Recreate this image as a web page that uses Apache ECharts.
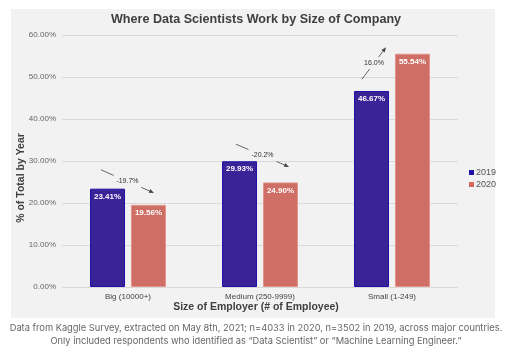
<!DOCTYPE html>
<html>
<head>
<meta charset="utf-8">
<script src="https://cdn.jsdelivr.net/npm/echarts@6/dist/echarts.min.js"></script>
<style>
html,body{margin:0;padding:0;background:#fff;}
#chart{width:512px;height:364px;}
</style>
</head>
<body>
<div id="chart"></div>
<script>
const categories = ['Big (10000+)', 'Medium (250-9999)', 'Small (1-249)'];
const values2019 = [23.41, 29.93, 46.67];
const values2020 = [19.56, 24.90, 55.54];
const yTicks = [0, 10, 20, 30, 40, 50, 60];
// change annotations (category units on a hidden value axis, value in %)
const arrowStartX = [-0.205, 0.818, 1.773];
const arrowStartY = [27.9, 34.0, 49.5];
const arrowEndX = [0.197, 1.220, 1.955];
const arrowEndY = [22.4, 28.6, 57.1];
const arrowLabels = ['-19.7%', '-20.2%', '16.0%'];

const arrowData = arrowLabels.map((l, i) => [arrowStartX[i], arrowStartY[i], arrowEndX[i], arrowEndY[i], l]);

const chart = echarts.init(document.getElementById('chart'));
const font = 'Liberation Sans, Arial, sans-serif';

chart.setOption({
  backgroundColor: '#ffffff',
  animation: false,
  textStyle: { fontFamily: font },
  graphic: [
    { type: 'rect', z: -100, shape: { x: 11, y: 9, width: 484, height: 309 }, style: { fill: '#f2f2f2' } },
    { type: 'text', left: 'center', top: 13, style: { text: 'Where Data Scientists Work by Size of Company', font: 'bold 12.6px ' + font, fill: '#404040' } },
    { type: 'text', x: 21, y: 178, rotation: Math.PI / 2, style: { text: '% of Total by Year', font: 'bold 10.5px ' + font, fill: '#404040', align: 'center', verticalAlign: 'middle' } },
    { type: 'text', left: 'center', top: 302, style: { text: 'Size of Employer (# of Employee)', font: 'bold 10.5px ' + font, fill: '#404040' } },
    { type: 'text', left: 'center', top: 324, style: { text: 'Data from Kaggle Survey, extracted on May 8th, 2021; n=4033 in 2020, n=3502 in 2019, across major countries.', font: '9.3px Inter, Roboto, sans-serif', fill: '#666666' } },
    { type: 'text', left: 'center', top: 337, style: { text: 'Only included respondents who identified as \u201cData Scientist\u201d or \u201cMachine Learning Engineer.\u201d', font: '9.3px Inter, Roboto, sans-serif', fill: '#666666' } }
  ],
  legend: {
    orient: 'vertical', left: 464, top: 163,
    itemWidth: 5, itemHeight: 5, itemGap: 3,
    icon: 'rect',
    textStyle: { fontSize: 9, color: '#555', padding: [0, 0, 0, -3] },
    data: [
      { name: '2019', itemStyle: { color: '#1d13aa', borderWidth: 0 } },
      { name: '2020', itemStyle: { color: '#d9685c', borderWidth: 0 } }
    ]
  },
  grid: { left: 62, right: 54, top: 35, bottom: 77 },
  xAxis: [
    {
      type: 'category', data: categories,
      axisLine: { show: false }, axisTick: { show: false },
      axisLabel: { fontSize: 8, color: '#444', margin: 6 }
    },
    { type: 'value', min: -0.5, max: 2.5, show: false }
  ],
  yAxis: {
    type: 'value', min: yTicks[0], max: yTicks[yTicks.length - 1], interval: 10,
    axisLine: { show: false }, axisTick: { show: false },
    axisLabel: { fontSize: 8, color: '#666', margin: 6, formatter: v => v.toFixed(2) + '%' },
    splitLine: { lineStyle: { color: '#d9d9d9', width: 1 } }
  },
  series: [
    {
      name: '2019', type: 'bar', data: values2019,
      barWidth: 35, barGap: '17%',
      itemStyle: { color: '#3a2396', borderColor: '#2010aa', borderWidth: 1 },
      label: { show: true, position: 'insideTop', distance: 4, color: '#fff', fontSize: 8, fontWeight: 'bold', formatter: p => p.value.toFixed(2) + '%' }
    },
    {
      name: '2020', type: 'bar', data: values2020,
      barWidth: 35,
      itemStyle: { color: '#cf6e64', borderColor: '#e3958c', borderWidth: 1 },
      label: { show: true, position: 'insideTop', distance: 4, color: '#fff', fontSize: 8, fontWeight: 'bold', formatter: p => p.value.toFixed(2) + '%' }
    },
    {
      type: 'custom', xAxisIndex: 1, yAxisIndex: 0, z: 5,
      data: arrowData,
      encode: { x: [0, 2], y: [1, 3] },
      renderItem: function (params, api) {
        const p0 = api.coord([api.value(0), api.value(1)]);
        const p1 = api.coord([api.value(2), api.value(3)]);
        const label = arrowData[params.dataIndex][4];
        const dx = p1[0] - p0[0], dy = p1[1] - p0[1];
        const hw = 14, hh = 6;
        const tg = Math.min(Math.abs(dx) > 0 ? hw / Math.abs(dx) : 1, Math.abs(dy) > 0 ? hh / Math.abs(dy) : 1);
        const ta = 0.5 - tg, tb = 0.5 + tg;
        const a = [p0[0] + dx * ta, p0[1] + dy * ta];
        const b = [p0[0] + dx * tb, p0[1] + dy * tb];
        const len = Math.sqrt(dx * dx + dy * dy);
        const ux = dx / len, uy = dy / len;
        const ah = 5, aw = 2;
        const base = [p1[0] - ux * ah, p1[1] - uy * ah];
        const mid = [p0[0] + dx / 2, p0[1] + dy / 2];
        const stroke = { stroke: '#444', lineWidth: 0.8 };
        return {
          type: 'group',
          children: [
            { type: 'line', shape: { x1: p0[0], y1: p0[1], x2: a[0], y2: a[1] }, style: stroke },
            { type: 'line', shape: { x1: b[0], y1: b[1], x2: base[0], y2: base[1] }, style: stroke },
            { type: 'polygon', shape: { points: [p1, [base[0] - uy * aw, base[1] + ux * aw], [base[0] + uy * aw, base[1] - ux * aw]] }, style: { fill: '#444' } },
            { type: 'text', x: mid[0], y: mid[1], style: { text: label, font: '7px ' + font, fill: '#333', align: 'center', verticalAlign: 'middle' } }
          ]
        };
      }
    }
  ]
});
</script>
</body>
</html>
